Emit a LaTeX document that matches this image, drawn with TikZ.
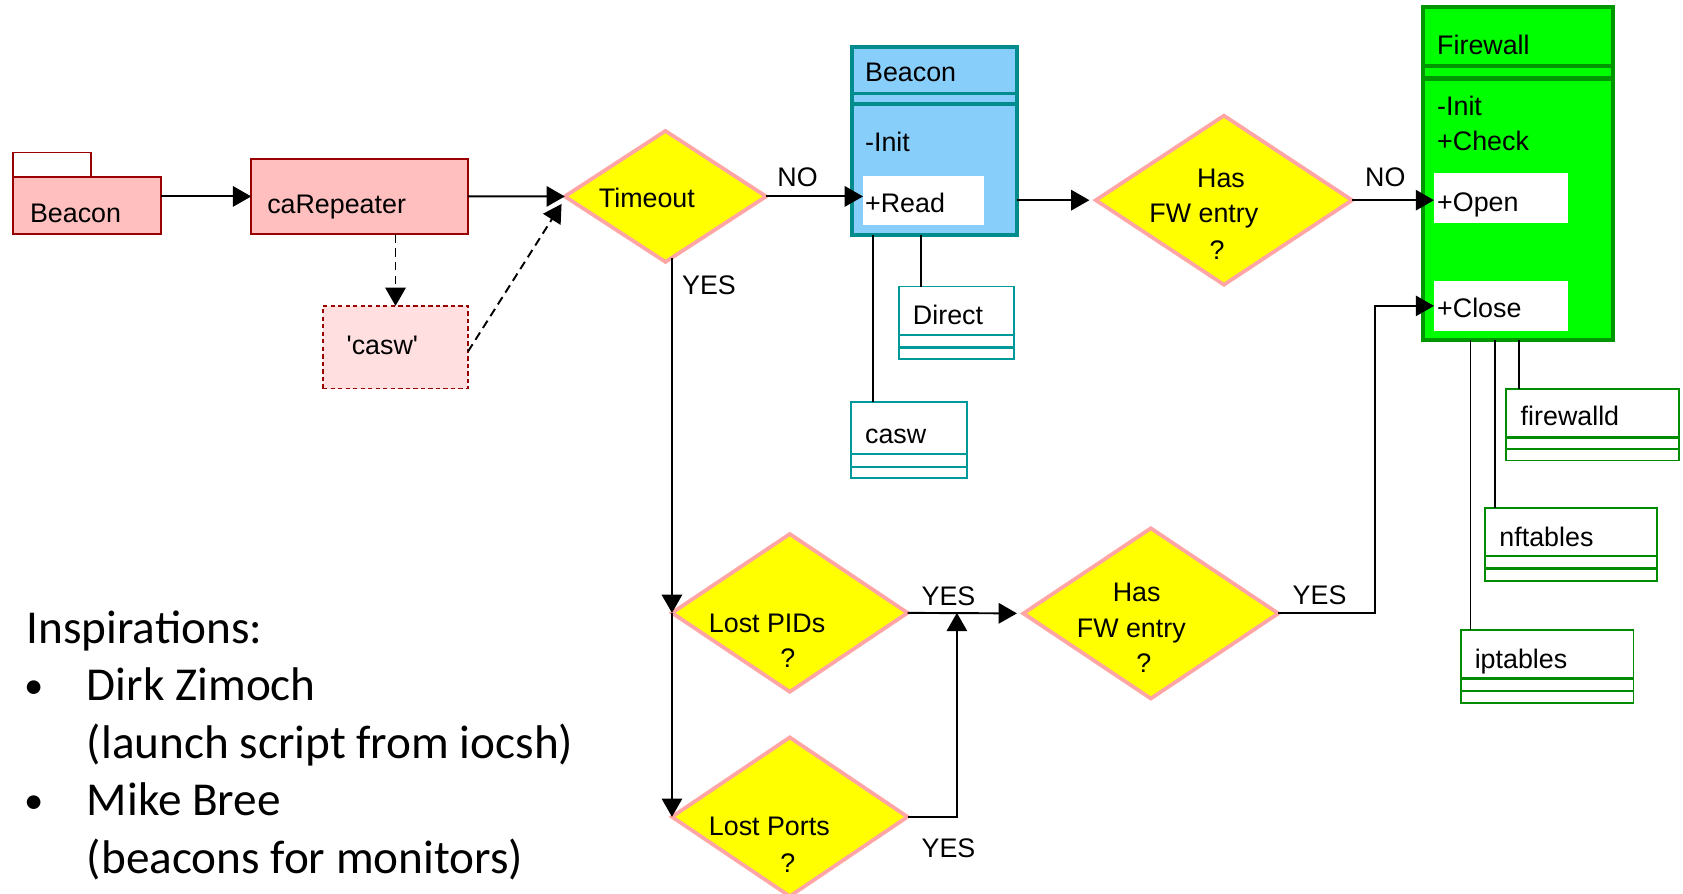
\documentclass[tikz,border=0pt]{standalone}
\usepackage{fontspec}
\setmainfont{Liberation Sans}
\newfontfamily\rawsans{Liberation Sans}[Ligatures=TeXOff]
\newfontfamily\calib{Carlito}
\usetikzlibrary{arrows.meta,shapes.geometric,calc}

\definecolor{boxred}{RGB}{153,0,0}
\definecolor{pinkfill}{RGB}{255,191,191}
\definecolor{lightpink}{RGB}{255,223,223}
\definecolor{diaedge}{RGB}{255,165,165}
\definecolor{diafill}{RGB}{255,255,0}
\definecolor{tealline}{RGB}{0,140,140}
\definecolor{tealthin}{RGB}{0,153,153}
\definecolor{skyfill}{RGB}{135,206,250}
\definecolor{fwline}{RGB}{0,150,0}
\definecolor{fwfill}{RGB}{0,255,0}
\definecolor{greenthin}{RGB}{0,140,0}

\begin{document}
\begin{tikzpicture}[x=1bp,y=-1bp,
  every node/.style={inner sep=0pt, outer sep=0pt},
  lbl/.style={font=\fontsize{25bp}{29bp}\selectfont, text=black},
  side/.style={font=\calib\fontsize{44bp}{53bp}\selectfont, text=black},
  redbox/.style={draw=boxred, fill=pinkfill, line width=1.6bp},
  dashbox/.style={draw=boxred, fill=lightpink, line width=1.6bp, dash pattern=on 4bp off 3bp},
  decision/.style={diamond, draw=diaedge, fill=diafill, line width=3.5bp},
  bigclass/.style={draw=tealline, fill=skyfill, line width=3.5bp},
  fwclass/.style={draw=fwline, fill=fwfill, line width=4bp},
  opbox/.style={fill=white},
  tclass/.style={draw=tealthin, fill=white, line width=1.6bp},
  gclass/.style={draw=greenthin, fill=white, line width=1.6bp},
  tsep/.style={draw=tealthin, line width=2.2bp},
  gsep/.style={draw=greenthin, line width=2.2bp},
  conn/.style={line width=1.8bp},
  arr/.style={conn, -{Triangle[length=17bp,width=19bp]}},
  darr/.style={arr, dash pattern=on 8bp off 5bp},
]
\fill[white] (0,0) rectangle (1568,832);
\useasboundingbox (0,0) rectangle (1568,832);

% ---------- Beacon folder and caRepeater ----------
\node[redbox, fill=white, anchor=north west, minimum width=73bp, minimum height=23bp] (tab) at (12,142) {};
\node[redbox, anchor=north west, minimum width=138bp, minimum height=53bp] (bfold) at (12,165) {};
\node[lbl, anchor=base west] (tbfold) at (28,207.4) {Beacon};

\node[redbox, anchor=north west, minimum width=202bp, minimum height=70bp] (carep) at (234,148) {};
\node[lbl, anchor=base west] (tcarep) at (249,198.6) {caRepeater};

\node[dashbox, anchor=north west, minimum width=135bp, minimum height=77bp] (cswd) at (301,285) {};
\node[lbl, anchor=base west] (tcswd) at (323,330) {\rawsans 'casw'};

% ---------- decisions ----------
\node[decision, minimum width=187.6bp, minimum height=122bp] (timeout) at (620,183) {};
\node[lbl, anchor=base west] (ttimeout) at (558,193) {Timeout};

\node[decision, minimum width=238.7bp, minimum height=157.5bp] (has1) at (1140.3,186.5) {};
\node[lbl, anchor=base] (th1a) at (1137.6,174.6) {Has};
\node[lbl, anchor=base] (th1b) at (1121.6,207.3) {FW entry};
\node[lbl, anchor=base] (th1c) at (1134,241.6) {?};

\node[decision, minimum width=219.5bp, minimum height=147bp] (pids) at (735.8,571) {};
\node[lbl, anchor=base west] (tpids) at (660.5,589.4) {Lost PIDs};
\node[lbl, anchor=base] (tpidsq) at (734,622) {?};

\node[decision, minimum width=219.5bp, minimum height=148bp] (ports) at (735.8,761) {};
\node[lbl, anchor=base west] (tports) at (660.5,778.6) {Lost Ports};
\node[lbl, anchor=base] (tportsq) at (734,812.6) {?};

\node[decision, minimum width=237.5bp, minimum height=158.6bp] (has2) at (1072.2,571.5) {};
\node[lbl, anchor=base] (th2a) at (1059,560) {Has};
\node[lbl, anchor=base] (th2b) at (1054,594) {FW entry};
\node[lbl, anchor=base] (th2c) at (1065.6,626.6) {?};

% ---------- Beacon class ----------
\node[bigclass, anchor=north west, minimum width=153.5bp, minimum height=175.5bp] (bcls) at (793.75,43.75) {};
\draw[tealline, line width=3.5bp] (bcls.west |- 0,87) -- (bcls.east |- 0,87);
\draw[tealline, line width=3.5bp] (bcls.west |- 0,97) -- (bcls.east |- 0,97);
\node[lbl, anchor=base west] (tbcls) at (806,76) {Beacon};
\node[lbl, anchor=base west] (tbinit) at (806,141.6) {-Init};
\node[opbox, anchor=north west, minimum width=113bp, minimum height=46bp] (read) at (804,164) {};
\node[lbl, anchor=base west] (tread) at (806,197.6) {+Read};

% ---------- Firewall class ----------
\node[fwclass, anchor=north west, minimum width=177bp, minimum height=310bp] (fw) at (1326,6.7) {};
\draw[fwline, line width=4bp] (fw.west |- 0,61.5) -- (fw.east |- 0,61.5);
\draw[fwline, line width=4bp] (fw.west |- 0,73) -- (fw.east |- 0,73);
\node[lbl, anchor=base west] (tfw) at (1339,51.2) {Firewall};
\node[lbl, anchor=base west] (tfwinit) at (1339,107.4) {-Init};
\node[lbl, anchor=base west] (tfwcheck) at (1339,140.6) {+Check};
\node[opbox, anchor=north west, minimum width=125bp, minimum height=46bp] (open) at (1336,161.5) {};
\node[lbl, anchor=base west] (topen) at (1339,196.6) {+Open};
\node[opbox, anchor=north west, minimum width=125bp, minimum height=46bp] (close) at (1336,262) {};
\node[lbl, anchor=base west] (tclose) at (1339,295.6) {+Close};

% ---------- implementation classes ----------
\node[tclass, anchor=north west, minimum width=107.4bp, minimum height=67.7bp] (direct) at (837.6,267) {};
\draw[tsep] ($(direct.north west)+(0,45)$) -- ($(direct.north east)+(0,45)$);
\draw[tsep] ($(direct.north west)+(0,56.6)$) -- ($(direct.north east)+(0,56.6)$);
\node[lbl, anchor=base west] (tdirect) at (850.6,302) {Direct};

\node[tclass, anchor=north west, minimum width=108bp, minimum height=70.9bp] (cswcls) at (793,374.6) {};
\draw[tsep] ($(cswcls.north west)+(0,48.4)$) -- ($(cswcls.north east)+(0,48.4)$);
\draw[tsep] ($(cswcls.north west)+(0,60.4)$) -- ($(cswcls.north east)+(0,60.4)$);
\node[lbl, anchor=base west] (tcswcls) at (806,413.6) {casw};

\node[gclass, anchor=north west, minimum width=161.4bp, minimum height=66.3bp] (fwd) at (1403,362.7) {};
\draw[gsep] ($(fwd.north west)+(0,44.8)$) -- ($(fwd.north east)+(0,44.8)$);
\draw[gsep] ($(fwd.north west)+(0,55.9)$) -- ($(fwd.north east)+(0,55.9)$);
\node[lbl, anchor=base west] (tfwd) at (1416.8,396.6) {firewalld};

\node[gclass, anchor=north west, minimum width=160.4bp, minimum height=67.4bp] (nft) at (1383.6,473.6) {};
\draw[gsep] ($(nft.north west)+(0,44.4)$) -- ($(nft.north east)+(0,44.4)$);
\draw[gsep] ($(nft.north west)+(0,56.2)$) -- ($(nft.north east)+(0,56.2)$);
\node[lbl, anchor=base west] (tnft) at (1397,509.2) {nftables};

\node[gclass, anchor=north west, minimum width=160.8bp, minimum height=67.7bp] (ipt) at (1361,587) {};
\draw[gsep] ($(ipt.north west)+(0,45)$) -- ($(ipt.north east)+(0,45)$);
\draw[gsep] ($(ipt.north west)+(0,56.5)$) -- ($(ipt.north east)+(0,56.5)$);
\node[lbl, anchor=base west] (tipt) at (1374,622.9) {iptables};

% attachment columns for the implementation links
\coordinate (xcsw) at (813.5,0);
\coordinate (xdir) at (858,0);
\coordinate (xipt) at (1370,0);
\coordinate (xnft) at (1393,0);
\coordinate (xfwd) at (1415,0);
\coordinate (xup) at (891.5,0);
\coordinate (xcl) at (1281,0);

\draw[conn] (bcls.south -| xcsw) -- (cswcls.north -| xcsw);
\draw[conn] (bcls.south -| xdir) -- (direct.north -| xdir);
\draw[conn] (fw.south -| xfwd) -- (fwd.north -| xfwd);
\draw[conn] (fw.south -| xnft) -- (nft.north -| xnft);
\draw[conn] (fw.south -| xipt) -- (ipt.north -| xipt);

% ---------- flow ----------
\draw[arr] (carep.west -| bfold.east) -- (carep.west);
\draw[arr] (carep.east) -- (timeout.west);
\draw[darr] (carep.south -| cswd.north) -- (cswd.north);
\draw[darr] ($(cswd.east)+(0,4)$) -- ($(timeout.west)+(-3,7)$);

\draw[arr] (timeout.east) -- (timeout.east -| read.west);
\node[lbl, anchor=base] (lno1) at (743,174) {NO};

\draw[arr, shorten >=6bp] (bcls.east |- has1.west) -- (has1.west);
\draw[arr] (has1.east) -- (has1.east -| open.west);
\node[lbl, anchor=base] (lno2) at (1290.6,174) {NO};

\draw[arr] ([yshift=4bp]timeout.south -| pids.west) -- (pids.west);
\node[lbl, anchor=base] (lyes1) at (660.5,274.2) {YES};
\draw[arr] (pids.west) -- (ports.west);

\draw[arr, shorten >=6bp] (pids.east) -- (has2.west);
\node[lbl, anchor=base] (lyes2) at (883.7,564) {YES};
\draw[arr] (ports.east) -| (xup |- pids.east);
\node[lbl, anchor=base] (lyes3) at (883.7,799) {YES};

\draw[arr] (has2.east) -- (has2.east -| xcl) |- (close.west);
\node[lbl, anchor=base] (lyes4) at (1229.4,563.6) {YES};

% ---------- credits ----------
\node[side, anchor=base west] (insp) at (24.8,599.5) {Inspirations:};
\node[side, anchor=base, font=\calib\fontsize{36bp}{40bp}\selectfont] (bul1) at (32,651) {•};
\node[side, anchor=base west] (dz) at (81,653) {Dirk Zimoch};
\node[side, anchor=base west] (dzn) at (81,706.5) {(launch script from iocsh)};
\node[side, anchor=base, font=\calib\fontsize{36bp}{40bp}\selectfont] (bul2) at (32,758) {•};
\node[side, anchor=base west] (mb) at (81,760) {Mike Bree};
\node[side, anchor=base west] (mbn) at (81,813.5) {(beacons for monitors)};
\end{tikzpicture}
\end{document}
